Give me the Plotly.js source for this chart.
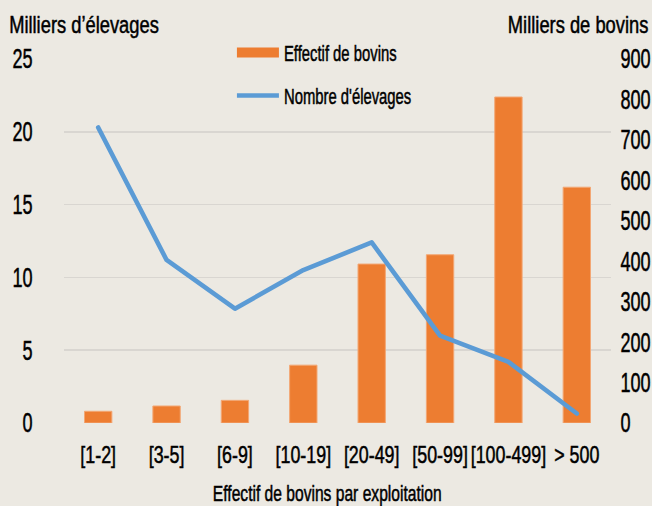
<!DOCTYPE html>
<html>
<head>
<meta charset="utf-8">
<script src="https://cdn.plot.ly/plotly-3.0.1.min.js"></script>
<style>html,body{margin:0;padding:0;background:#ECE9E2;}#chart{width:652px;height:506px;}</style>
</head>
<body>
<div id="chart"></div>
<script>
var categories = ["[1-2]", "[3-5]", "[6-9]", "[10-19]", "[20-49]", "[50-99]", "[100-499]", "> 500"];
var effectifBovins = [29, 42, 56, 143, 393, 416, 806, 583];      // milliers de bovins (right axis)
var nombreElevages = [20.3, 11.2, 7.85, 10.5, 12.4, 6.0, 4.2, 0.65]; // milliers d'élevages (left axis)
var leftTicks = [0, 5, 10, 15, 20, 25];
var rightTicks = [0, 100, 200, 300, 400, 500, 600, 700, 800, 900];

var FONT = "'Liberation Sans', Arial, sans-serif";
var ORANGE = "#ED7D31";
var BLUE = "#5B9BD5";

var traces = [
  {
    type: "bar",
    x: categories,
    y: effectifBovins,
    yaxis: "y",
    name: "Effectif de bovins",
    showlegend: false,
    marker: { color: ORANGE, line: { color: "#F3A774", width: 1 } },
    hoverinfo: "x+y"
  },
  {
    type: "scatter",
    mode: "lines",
    x: [null],
    y: [null],
    yaxis: "y",
    name: "Effectif de bovins",
    legendgroup: "a",
    line: { color: ORANGE, width: 14 },
    hoverinfo: "skip"
  },
  {
    type: "scatter",
    mode: "lines",
    x: categories,
    y: nombreElevages,
    yaxis: "y2",
    name: "Nombre d'élevages",
    legendgroup: "b",
    line: { color: BLUE, width: 4.6 }
  }
];

var layout = {
  width: 652,
  height: 506,
  margin: { l: 64, r: 41, t: 59, b: 83 },
  paper_bgcolor: "#ECE9E2",
  plot_bgcolor: "#ECE9E2",
  font: { family: FONT, color: "#000000", size: 23 },
  bargap: 0.6,
  showlegend: true,
  legend: {
    x: 0.307, xanchor: "left",
    y: 1.074, yanchor: "top",
    bgcolor: "rgba(0,0,0,0)",
    font: { family: FONT, size: 21.5, color: "#000" },
    tracegroupgap: 12,
    itemwidth: 42,
    traceorder: "grouped"
  },
  xaxis: {
    type: "category",
    tickvals: categories,
    ticktext: categories,
    tickangle: 0,
    tickfont: { family: FONT, size: 23.5, color: "#000" },
    ticks: "outside", ticklen: 11, tickcolor: "rgba(0,0,0,0)",
    showline: false, showgrid: false, zeroline: false
  },
  yaxis: {
    side: "right",
    range: [0, 900],
    tickvals: rightTicks,
    ticktext: rightTicks.map(String),
    tickfont: { family: FONT, size: 27, color: "#000" },
    showgrid: false, zeroline: false, showline: false,
    ticks: "outside", ticklen: 3, tickcolor: "rgba(0,0,0,0)"
  },
  yaxis2: {
    overlaying: "y",
    side: "left",
    range: [0, 25],
    tickvals: leftTicks,
    ticktext: leftTicks.map(String),
    tickfont: { family: FONT, size: 27, color: "#000" },
    showgrid: true, gridcolor: "#D9D6D1", gridwidth: 1.5,
    zeroline: false, showline: false,
    ticks: "outside", ticklen: 25, tickcolor: "rgba(0,0,0,0)"
  },
  annotations: [
    { text: "Milliers d’élevages", xref: "paper", yref: "paper", x: 0.0366, y: 1.094, xanchor: "center", yanchor: "middle", showarrow: false, font: { family: FONT, size: 23.5, color: "#000" } },
    { text: "Milliers de bovins", xref: "paper", yref: "paper", x: 0.9397, y: 1.094, xanchor: "center", yanchor: "middle", showarrow: false, font: { family: FONT, size: 23.5, color: "#000" } },
    { text: "Effectif de bovins par exploitation", xref: "paper", yref: "paper", x: 0.4817, y: -0.193, xanchor: "center", yanchor: "middle", showarrow: false, font: { family: FONT, size: 22, color: "#000" } }
  ]
};

// Condense (horizontal scale about each text's anchor) and slightly embolden text,
// to imitate the narrow typeface of the reference
function condense(gd) {
  var rules = [
    [".xtick text", 0.76],
    [".ytick text", 0.67],
    [".y2tick text", 0.67],
    [".legendtext", 0.69],
    [".annotation-text", 0.78]
  ];
  rules.forEach(function (r) {
    gd.querySelectorAll(r[0]).forEach(function (el) {
      var c = r[1];
      if (el.textContent.indexOf("par exploitation") >= 0) c = 0.71;
      var ax = parseFloat(el.getAttribute("x") || "0") || 0;
      var tr = el.getAttribute("transform") || "";
      el.setAttribute("transform", (tr + " translate(" + ax + ",0) scale(" + c + ",1) translate(" + (-ax) + ",0)").trim());
      el.style.stroke = "#000";
      el.style.strokeWidth = "0.5px";
    });
  });
  gd.querySelectorAll(".scatterlayer .js-line").forEach(function (p) {
    p.style.strokeLinecap = "round";
    p.style.strokeLinejoin = "round";
  });
}

Plotly.newPlot("chart", traces, layout, { displayModeBar: false, staticPlot: true }).then(condense);
</script>
</body>
</html>
